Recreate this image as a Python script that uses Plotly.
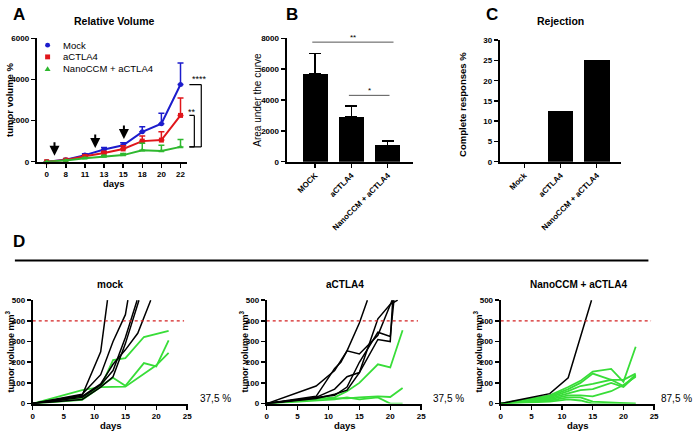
import plotly.graph_objects as go

W, H = 700, 437
FONT = "Liberation Sans"

# ---------------- Panel A data ----------------
day_labels = ["0", "8", "11", "13", "15", "18", "20", "22"]
mock_mean = [0, 100, 320, 590, 800, 1450, 1850, 3750]
mock_err = [0, 30, 60, 100, 120, 250, 500, 1050]
actla4_mean = [0, 80, 260, 420, 620, 1000, 1050, 2250]
actla4_err = [0, 20, 50, 80, 150, 250, 400, 850]
nano_mean = [0, 60, 170, 250, 320, 550, 520, 720]
nano_err = [0, 10, 30, 60, 80, 350, 280, 360]
arrow_pos = [0.41, 2.54, 4.04]
arrow_val = [290, 670, 1100]

# ---------------- Panel B data ----------------
auc_groups = ["MOCK", "aCTLA4", "NanoCCM + aCTLA4"]
auc_vals = [5700, 2900, 1050]
auc_err = [1300, 700, 300]

# ---------------- Panel C data ----------------
rej_groups = ["Mock", "aCTLA4", "NanoCCM + aCTLA4"]
rej_vals = [0, 12.5, 25]

# ---------------- Panel D data ----------------
mock_black_days = [[0, 8, 11, 12.1], [0, 8, 11, 13, 15, 15.4], [0, 8, 11, 13, 15, 16.9],
                   [0, 8, 11, 13, 15, 17.2], [0, 8, 11, 13, 15, 17, 19.1]]
mock_black_vals = [[0, 40, 250, 500], [0, 45, 140, 300, 430, 500], [0, 30, 90, 160, 320, 500],
                   [0, 20, 80, 130, 290, 500], [0, 35, 95, 190, 260, 340, 500]]
mock_green_days = [[0, 8, 11, 13, 15, 18, 22], [0, 8, 13, 15, 18, 20, 22], [0, 8, 11, 15, 20, 22]]
mock_green_vals = [[0, 65, 80, 210, 220, 322, 352], [0, 25, 125, 86, 196, 180, 306], [0, 18, 80, 82, 185, 245]]

ctla_black_days = [[0, 8, 11, 13, 15, 16.3], [0, 8, 11, 12, 13, 15, 18, 20, 20.3],
                   [0, 8, 11, 13, 15, 18, 20, 20.4], [0, 8, 11, 13, 15, 18, 20, 20.6],
                   [0, 8, 11, 13, 15, 18, 20, 21.2]]
ctla_black_vals = [[0, 85, 160, 255, 390, 500], [0, 35, 170, 200, 255, 240, 330, 470, 500],
                   [0, 30, 70, 130, 150, 310, 300, 500], [0, 30, 40, 80, 200, 345, 325, 500],
                   [0, 25, 45, 65, 150, 410, 480, 500]]
ctla_green_days = [[0, 8, 11, 13, 15, 18, 20, 22], [0, 8, 11, 13, 15, 18, 20, 22], [0, 8, 11, 13, 15, 18, 20, 22]]
ctla_green_vals = [[0, 20, 30, 60, 100, 190, 175, 355], [0, 25, 25, 25, 30, 35, 32, 75],
                   [0, 15, 20, 30, 20, 30, 0, 0]]

nano_black_days = [[0, 8, 11, 13, 14.8]]
nano_black_vals = [[0, 48, 125, 320, 500]]
nano_green_days = [[0, 8, 11, 13, 15, 18, 20, 22]] * 7
nano_green_vals = [[0, 40, 80, 110, 155, 168, 105, 275],
                   [0, 35, 70, 100, 145, 115, 115, 145],
                   [0, 30, 60, 85, 95, 115, 85, 140],
                   [0, 25, 50, 65, 70, 100, 80, 135],
                   [0, 20, 40, 40, 35, 60, 90, 130],
                   [0, 15, 30, 30, 10, 5, 5, 0],
                   [0, 10, 20, 15, 0, 0, 0, 0]]

pct_labels = ["37,5 %", "37,5 %", "87,5 %"]
d_titles = ["mock", "aCTLA4", "NanoCCM + aCTLA4"]

BLUE = "#1c1ccc"
RED = "#e0161b"
GREEN_A = "#2fb82f"
GREEN_D = "#38dd38"

def px(x):
    return x / W

def py(y):
    return 1 - y / H

fig = go.Figure()

# Panel A lines
idx = list(range(len(day_labels)))
for mean, err, col, sym in [(mock_mean, mock_err, BLUE, "circle"),
                            (actla4_mean, actla4_err, RED, "square"),
                            (nano_mean, nano_err, GREEN_A, "triangle-up")]:
    fig.add_trace(go.Scatter(
        x=idx, y=mean, mode="lines+markers", xaxis="x", yaxis="y",
        line=dict(color=col, width=2), marker=dict(symbol=sym, size=5, color=col),
        error_y=dict(type="data", array=err, arrayminus=[0] * len(err), symmetric=False,
                     color=col, thickness=1.5, width=3),
        showlegend=False, cliponaxis=False))

# Panel B bars
fig.add_trace(go.Bar(x=list(range(3)), y=auc_vals, xaxis="x2", yaxis="y2",
                     marker=dict(color="black", line=dict(width=0)), width=0.68,
                     error_y=dict(type="data", array=auc_err, arrayminus=[0, 0, 0], symmetric=False,
                                  color="black", thickness=1.5, width=6),
                     showlegend=False))

# Panel C bars
fig.add_trace(go.Bar(x=list(range(3)), y=rej_vals, xaxis="x3", yaxis="y3",
                     marker=dict(color="black", line=dict(width=0)), width=0.71,
                     showlegend=False))

# Panel D curves
groups = [(mock_black_days, mock_black_vals, mock_green_days, mock_green_vals),
          (ctla_black_days, ctla_black_vals, ctla_green_days, ctla_green_vals),
          (nano_black_days, nano_black_vals, nano_green_days, nano_green_vals)]
for k, (bd, bv, gd, gv) in enumerate(groups):
    xa, ya = f"x{4 + k}", f"y{4 + k}"
    for d, v in zip(gd, gv):
        fig.add_trace(go.Scatter(x=d, y=v, mode="lines", xaxis=xa, yaxis=ya,
                                 line=dict(color=GREEN_D, width=1.8), showlegend=False, cliponaxis=False))
    for d, v in zip(bd, bv):
        fig.add_trace(go.Scatter(x=d, y=v, mode="lines", xaxis=xa, yaxis=ya,
                                 line=dict(color="black", width=1.5), showlegend=False, cliponaxis=False))

tickfont = dict(family=FONT, size=8, color="black", weight="bold")
axis_common = dict(showgrid=False, zeroline=False, showline=True, linecolor="black", linewidth=2,
                   ticks="outside", ticklen=4, tickwidth=1.5, tickcolor="black", tickfont=tickfont)

yA = (py(161), py(35))
layout = dict(
    width=W, height=H, autosize=False, margin=dict(l=0, r=0, t=0, b=0),
    paper_bgcolor="white", plot_bgcolor="white", showlegend=False, bargap=0,
    xaxis=dict(domain=[px(35), px(187)], anchor="y", range=[-0.52, 7.36],
               tickvals=idx, ticktext=day_labels, **axis_common),
    yaxis=dict(domain=list(yA), anchor="x", range=[0, 6000], tickvals=[0, 2000, 4000, 6000], **axis_common),
    xaxis2=dict(domain=[px(287), px(415)], anchor="y2", range=[-0.79, 2.71],
                tickvals=[0, 1, 2], ticktext=auc_groups, tickangle=-45, **axis_common),
    yaxis2=dict(domain=list(yA), anchor="x2", range=[0, 8000], tickvals=[0, 2000, 4000, 6000, 8000], **axis_common),
    xaxis3=dict(domain=[px(502), px(624)], anchor="y3", range=[-0.68, 2.66],
                tickvals=[0, 1, 2], ticktext=rej_groups, tickangle=-45, **axis_common),
    yaxis3=dict(domain=[py(161), py(37)], anchor="x3", range=[0, 30], dtick=5, **axis_common),
)
d_x = [(31, 188), (267, 424), (503, 659)]
for k, (a, b) in enumerate(d_x):
    layout[f"xaxis{4 + k}"] = dict(domain=[px(a), px(b)], anchor=f"y{4 + k}", range=[0, 25.2], dtick=5, **axis_common)
    layout[f"yaxis{4 + k}"] = dict(domain=[py(408), py(302)], anchor=f"x{4 + k}", range=[0, 502], dtick=100, **axis_common)
fig.update_layout(**layout)

shapes = []
ann = []

def text(x, y, s, size=9, bold=True, xanchor="center", angle=0, xref="paper", yref="paper"):
    ann.append(dict(x=x, y=y, xref=xref, yref=yref, text=s, showarrow=False, xanchor=xanchor,
                    yanchor="middle", textangle=angle,
                    font=dict(family=FONT, size=size, color="black", weight="bold" if bold else "normal")))

# Panel letters & titles
text(px(17), py(11), "A", size=17)
text(px(293), py(11), "B", size=17)
text(px(494), py(11), "C", size=17)
text(px(17), py(242), "D", size=17)
text(px(113), py(17), "Relative Volume", size=10.5)
text(px(563), py(17), "Rejection", size=10.5)
text(px(113), py(183), "days", size=9.5)
text(px(8), py(98), "tumor volume %", size=9.5, angle=-90)
text(px(258), py(98), "Area under the curve", size=10, bold=False, angle=-90)
text(px(465), py(103), "Complete responses %", size=9.5, angle=-90)

# Legend in panel A (manual)
leg = [("Mock", BLUE, "circle"), ("aCTLA4", RED, "square"), ("NanoCCM + aCTLA4", GREEN_A, "tri")]
for i, (lab, col, kind) in enumerate(leg):
    yy = 42 + i * 12
    cx = 46
    if kind == "circle":
        shapes.append(dict(type="circle", xref="paper", yref="paper", x0=px(cx - 2.5), x1=px(cx + 2.5),
                           y0=py(yy + 2.5), y1=py(yy - 2.5), fillcolor=col, line=dict(width=0)))
    elif kind == "square":
        shapes.append(dict(type="rect", xref="paper", yref="paper", x0=px(cx - 2.5), x1=px(cx + 2.5),
                           y0=py(yy + 2.5), y1=py(yy - 2.5), fillcolor=col, line=dict(width=0)))
    else:
        shapes.append(dict(type="path", xref="paper", yref="paper",
                           path=f"M {px(cx-3)} {py(yy+2.5)} L {px(cx+3)} {py(yy+2.5)} L {px(cx)} {py(yy-2.5)} Z",
                           fillcolor=col, line=dict(width=0)))
    text(px(60), py(yy), lab, size=9.5, bold=False, xanchor="left")

# Arrows in panel A
for xa_, ya_ in zip(arrow_pos, arrow_val):
    ann.append(dict(x=xa_, y=ya_, xref="x", yref="y", ax=0, ay=-15, showarrow=True,
                    arrowhead=2, arrowsize=1, arrowwidth=2, arrowcolor="black", text=""))

# Significance brackets in panel A
def seg(x0, y0, x1, y1, xref, yref, color="black", width=1.2, dash=None):
    ln = dict(color=color, width=width)
    if dash:
        ln["dash"] = dash
    shapes.append(dict(type="line", xref=xref, yref=yref, x0=x0, y0=y0, x1=x1, y1=y1, line=ln))

top_big, top_small, bot = mock_mean[-1], actla4_mean[-1], nano_mean[-1]
seg(px(189), top_big, px(201), top_big, "paper", "y")
seg(px(201), top_big, px(201), bot, "paper", "y")
seg(px(189), bot, px(201), bot, "paper", "y")
seg(px(189), top_small, px(194), top_small, "paper", "y")
seg(px(194), top_small, px(194), bot, "paper", "y")
seg(px(189), bot, px(194), bot, "paper", "y")
text(px(199), py(77), "****", size=9, bold=False)
text(px(192), py(110), "**", size=9, bold=False)

# Significance in panel B
seg(-0.08, 7750, 2.16, 7750, "x2", "y2", color="#555", width=1)
seg(0.93, 4300, 2.05, 4300, "x2", "y2", color="#555", width=1)
text(px(354), py(34), "**", size=8, bold=False)
text(px(371), py(88), "*", size=8, bold=False)

# Panel D decorations
seg(px(13), py(262), px(652), py(262), "paper", "paper", width=2)
pct_x = [215, 450]
d_ylab_x = [8, 244, 480]
for k in range(3):
    a, b = d_x[k]
    seg(0, 400, 24.5, 400, f"x{4 + k}", f"y{4 + k}", color="#d42020", width=1.3, dash="dot")
    text(px((a + b) / 2), py(286), d_titles[k], size=10)
    text(px((a + b) / 2), py(430), "days", size=9.5)
    text(px(d_ylab_x[k]), py(355), "tumor volume mm<sup>3</sup>", size=9, angle=-90)
    if k < 2:
        text(px(pct_x[k]), py(403), pct_labels[k], size=10, bold=False)
    else:
        text(px(698), py(403), pct_labels[k], size=10, bold=False, xanchor="right")

fig.update_layout(shapes=shapes, annotations=ann)
fig.write_html("out.html", config={"displayModeBar": False, "staticPlot": True},
               post_script="document.body.style.margin='0';document.body.style.overflow='hidden';")
